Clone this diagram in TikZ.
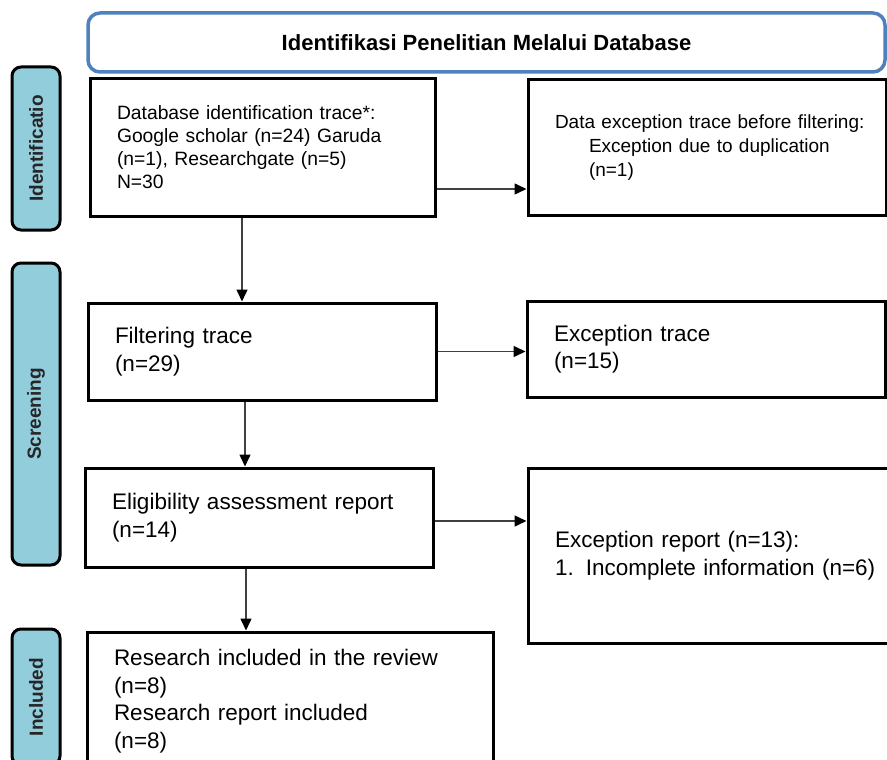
\documentclass[tikz,border=0pt]{standalone}
\usepackage{fontspec}
\setmainfont{Liberation Sans}
\usetikzlibrary{arrows.meta}
\definecolor{titleblue}{HTML}{4F81BD}
\definecolor{stageblue}{HTML}{92CDDC}
\tikzset{basic/.style={draw,line width=3pt,align=left,inner xsep=27pt,inner ysep=0pt}}
\tikzset{report/.style={basic,rectangle,font=\fontsize{22.5}{27.5}\selectfont}}
\tikzset{stage/.style={basic,rounded corners=9pt,fill=stageblue,rotate=90,align=center,
                       inner xsep=0pt,minimum height=48pt,text=black!85,
                       font=\bfseries\fontsize{19}{23}\selectfont}}
\tikzset{heading/.style={draw=titleblue,line width=3.5pt,rounded corners=12pt,
                         font=\bfseries\fontsize{22}{26}\selectfont}}
\tikzset{link/.style={draw=black!75,line width=1.5pt,-{Triangle[length=12pt,width=11pt,color=black]}}}

\begin{document}
\begin{tikzpicture}[x=1pt,y=-1pt]
    \useasboundingbox (0,0) rectangle (887,760);
    \clip (0,0) rectangle (887,760);
    \node[heading,minimum width=797pt,minimum height=59pt] (title) at (486.5,42.5)
        {Identifikasi Penelitian Melalui Database};
    \foreach \h/\y/\len [count=\hi] in {Identificatio/148.5/163,Screening/414/302,Included/697/136}{%
          \node[stage,minimum width=\len pt] (stage\hi) at (36,\y) {\h};
        }
    % left column
    \node[basic,font=\fontsize{19.3}{23}\selectfont,text width=291pt,minimum height=137pt]
        (id) at (262.5,147.5)
        {Database identification trace*:\\ Google scholar (n=24) Garuda\\
         (n=1), Researchgate (n=5)\\ N=30};
    \node[report,text width=294pt,minimum height=97pt] (filter) at (262,351.5)
        {Filtering trace\\ (n=29)};
    \node[report,text width=294pt,minimum height=99pt] (elig) at (259,517.5)
        {Eligibility assessment report\\ (n=14)};
    \node[report,text width=352pt,minimum height=138pt] (incl) at (290,701)
        {Research included in the review\\ (n=8)\\ Research report included\\ (n=8)};
    % right column
    \node[basic,font=\fontsize{19}{24}\selectfont,text width=304pt,minimum height=135pt]
        (excl1) at (707,147.5)
        {\mbox{Data exception trace before filtering:}\\
         \hspace*{34pt}Exception due to duplication\\ \hspace*{34pt}(n=1)};
    \node[report,text width=304pt,minimum height=96pt] (excl2) at (706,349)
        {Exception trace\\ (n=15)};
    \node[report,text width=326pt,minimum height=175pt] (excl3) at (718,555.5)
        {Exception report (n=13):\\ 1.\hspace{12pt}Incomplete information (n=6)};

    \foreach \from/\to/\dx in {id/filter/-20.5,filter/elig/-17,elig/incl/-13}{%
          \coordinate (\from-down) at ([xshift=\dx pt]\from.south);
          \draw[link] (\from-down) -- (\from-down |- \to.north);
        }
    \foreach \from/\to/\dy in {id/excl1/-41.5,filter/excl2/0,elig/excl3/-3.5}{%
          \coordinate (\from-right) at ([yshift=\dy pt]\from.east);
          \draw[link] (\from-right) -- (\from-right -| \to.west);
        }
\end{tikzpicture}
\end{document}
